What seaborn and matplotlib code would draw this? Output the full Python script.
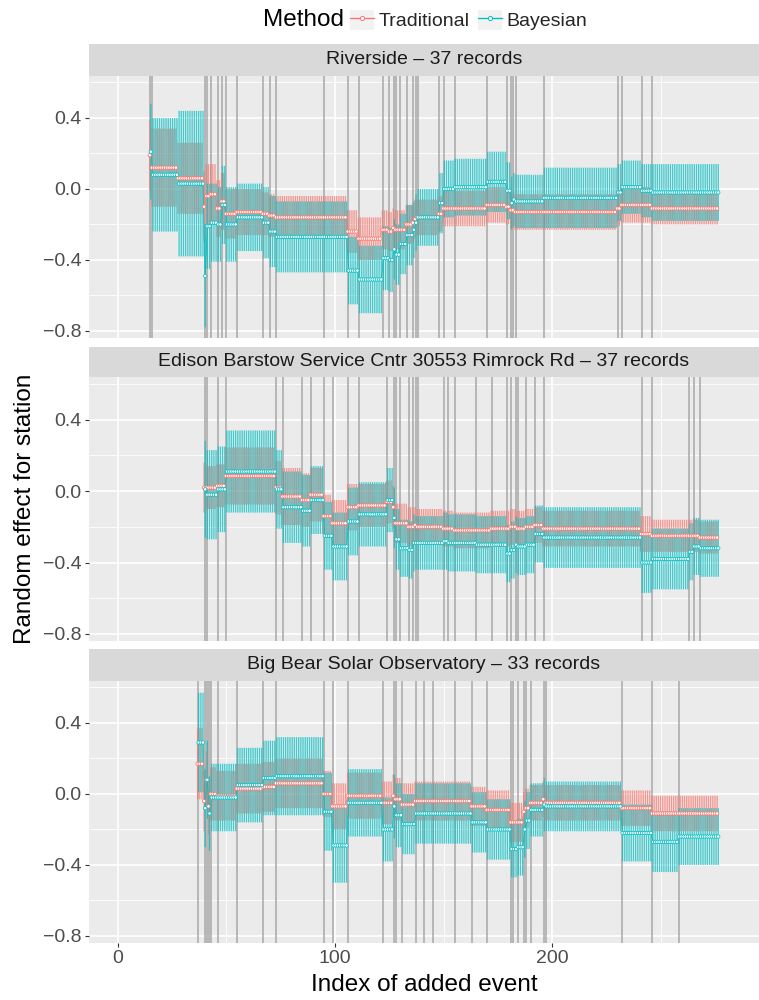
import numpy as np
import pandas as pd
import matplotlib
matplotlib.use("Agg")
import matplotlib.pyplot as plt
from matplotlib.patches import Rectangle
from matplotlib.lines import Line2D
from matplotlib.legend_handler import HandlerTuple
import seaborn as sns

# ---------------- data ----------------
methods = ["Traditional", "Bayesian"]
method_colors = ["#F8766D", "#00BFC4"]
station_titles = ["Riverside \u2013 37 records",
                  "Edison Barstow Service Cntr 30553 Rimrock Rd \u2013 37 records",
                  "Big Bear Solar Observatory \u2013 33 records"]
last_event = 276
x_ticks = [0, 100, 200]
y_ticks = [-0.8, -0.4, 0.0, 0.4]

# Riverside
riv_records = [15, 16, 40, 41, 43, 46, 48, 50, 55, 67, 70, 73, 95, 106, 111, 122, 125, 127,
               128, 130, 133, 136, 137, 138, 148, 150, 155, 170, 179, 181, 182, 183, 196,
               230, 232, 241, 246]
riv_knots = [15, 16, 28, 40, 41, 43, 46, 48, 50, 55, 67, 70, 73, 95, 106, 111, 122, 125, 127,
             128, 130, 133, 136, 137, 138, 148, 150, 155, 170, 179, 181, 182, 183, 196,
             230, 232, 241, 246]
riv_trad_mean = [0.19, 0.12, 0.06, -0.10, -0.04, -0.03, -0.11, -0.07, -0.14, -0.13, -0.14, -0.15,
                 -0.16, -0.16, -0.24, -0.28, -0.23, -0.24, -0.22, -0.23, -0.23, -0.20, -0.19,
                 -0.17, -0.16, -0.14, -0.11, -0.11, -0.09, -0.10, -0.12, -0.12, -0.13, -0.13,
                 -0.11, -0.09, -0.09, -0.11]
riv_trad_half = [0.20, 0.22, 0.20, 0.20, 0.18, 0.17, 0.16, 0.16, 0.14, 0.13, 0.12, 0.12,
                 0.12, 0.12, 0.12, 0.12, 0.11, 0.11, 0.11, 0.11, 0.11, 0.11, 0.11,
                 0.11, 0.10, 0.10, 0.10, 0.10, 0.10, 0.10, 0.10, 0.10, 0.10, 0.10,
                 0.10, 0.10, 0.10, 0.09]
riv_bayes_mean = [0.21, 0.08, 0.03, -0.49, -0.21, -0.19, -0.20, -0.09, -0.20, -0.16, -0.19, -0.24,
                  -0.27, -0.27, -0.46, -0.51, -0.39, -0.40, -0.34, -0.37, -0.31, -0.26, -0.23,
                  -0.19, -0.16, -0.08, 0.00, 0.01, 0.04, -0.01, -0.08, -0.06, -0.07, -0.05,
                  -0.02, 0.01, -0.01, -0.02]
riv_bayes_half = [0.27, 0.32, 0.41, 0.29, 0.24, 0.22, 0.21, 0.22, 0.21, 0.19, 0.20, 0.20,
                  0.20, 0.20, 0.19, 0.19, 0.18, 0.18, 0.17, 0.17, 0.17, 0.17, 0.16,
                  0.16, 0.16, 0.17, 0.16, 0.16, 0.17, 0.16, 0.15, 0.15, 0.15, 0.17,
                  0.16, 0.15, 0.15, 0.16]

# Edison Barstow
edi_records = [40, 41, 46, 50, 73, 76, 85, 89, 95, 99, 106, 111, 124, 127, 128, 130, 134, 136,
               137, 138, 150, 152, 155, 165, 172, 179, 181, 183, 184, 188, 192, 196, 241, 246,
               263, 265, 268]
edi_knots = edi_records
edi_trad_mean = [0.02, 0.02, 0.03, 0.085, 0.02, -0.03, -0.05, -0.02, -0.14, -0.18, -0.09, -0.08,
                 -0.06, -0.09, -0.18, -0.18, -0.20, -0.20, -0.19, -0.20, -0.21, -0.21, -0.22,
                 -0.22, -0.21, -0.21, -0.20, -0.20, -0.21, -0.20, -0.19, -0.21, -0.24, -0.25,
                 -0.25, -0.25, -0.26]
edi_trad_half = [0.14, 0.12, 0.12, 0.16, 0.15, 0.16, 0.15, 0.15, 0.12, 0.13, 0.13, 0.12,
                 0.12, 0.12, 0.11, 0.11, 0.11, 0.11, 0.10, 0.10, 0.10, 0.10, 0.10,
                 0.10, 0.10, 0.10, 0.10, 0.10, 0.10, 0.10, 0.10, 0.10, 0.10, 0.09,
                 0.09, 0.09, 0.09]
edi_bayes_mean = [0.01, -0.02, 0.01, 0.11, 0.01, -0.09, -0.11, -0.05, -0.25, -0.31, -0.17, -0.13,
                  -0.05, -0.15, -0.27, -0.32, -0.33, -0.29, -0.29, -0.29, -0.28, -0.29, -0.29,
                  -0.30, -0.30, -0.35, -0.33, -0.30, -0.31, -0.30, -0.24, -0.26, -0.40, -0.38,
                  -0.34, -0.31, -0.32]
edi_bayes_half = [0.27, 0.25, 0.24, 0.23, 0.22, 0.20, 0.20, 0.19, 0.19, 0.19, 0.19, 0.18,
                  0.18, 0.17, 0.17, 0.16, 0.16, 0.16, 0.15, 0.15, 0.16, 0.16, 0.16,
                  0.16, 0.16, 0.16, 0.16, 0.16, 0.16, 0.16, 0.16, 0.17, 0.17, 0.17,
                  0.16, 0.16, 0.16]

# Big Bear Solar Observatory
bbs_records = [37, 40, 41, 42, 43, 46, 55, 67, 73, 95, 99, 106, 122, 127, 128, 131, 137, 141,
               145, 155, 163, 170, 181, 182, 184, 187, 188, 190, 196, 197, 232, 246, 258]
bbs_knots = bbs_records
bbs_trad_mean = [0.17, -0.04, 0.08, -0.07, 0.00, -0.01, 0.03, 0.04, 0.06, 0.00, -0.07, -0.01,
                 -0.05, -0.01, -0.03, -0.06, -0.04, -0.04, -0.04, -0.04, -0.07, -0.09, -0.16,
                 -0.16, -0.16, -0.10, -0.08, -0.05, -0.03, -0.05, -0.08, -0.11, -0.11]
bbs_trad_half = [0.20, 0.17, 0.16, 0.16, 0.15, 0.14, 0.14, 0.14, 0.14, 0.13, 0.13, 0.13,
                 0.12, 0.12, 0.12, 0.12, 0.11, 0.11, 0.11, 0.11, 0.11, 0.11, 0.11,
                 0.11, 0.11, 0.11, 0.11, 0.10, 0.10, 0.10, 0.10, 0.10, 0.10]
bbs_bayes_mean = [0.29, -0.08, 0.08, -0.11, -0.02, -0.02, 0.05, 0.09, 0.10, -0.10, -0.29, -0.05,
                  -0.20, -0.07, -0.12, -0.17, -0.11, -0.11, -0.11, -0.11, -0.16, -0.20, -0.31,
                  -0.31, -0.30, -0.20, -0.15, -0.09, -0.06, -0.07, -0.22, -0.27, -0.24]
bbs_bayes_half = [0.28, 0.22, 0.22, 0.21, 0.19, 0.19, 0.21, 0.21, 0.22, 0.22, 0.21, 0.19,
                  0.18, 0.18, 0.18, 0.17, 0.17, 0.17, 0.17, 0.17, 0.17, 0.17, 0.16,
                  0.16, 0.16, 0.16, 0.16, 0.15, 0.15, 0.14, 0.16, 0.17, 0.16]

stations = [
    (riv_records, riv_knots, riv_trad_mean, riv_trad_half, riv_bayes_mean, riv_bayes_half),
    (edi_records, edi_knots, edi_trad_mean, edi_trad_half, edi_bayes_mean, edi_bayes_half),
    (bbs_records, bbs_knots, bbs_trad_mean, bbs_trad_half, bbs_bayes_mean, bbs_bayes_half),
]


def build_frame(knots, tm, th, bm, bh):
    """Values only change when a new event is added: hold each read value until the next knot."""
    x = np.arange(knots[0], last_event + 1)
    idx = np.searchsorted(knots, x, side="right") - 1
    frames = []
    for name, m, h in (("Traditional", tm, th), ("Bayesian", bm, bh)):
        m = np.asarray(m)[idx]
        h = np.asarray(h)[idx]
        frames.append(pd.DataFrame({"event": x, "mean": m, "lo": m - h, "hi": m + h,
                                    "Method": name}))
    return pd.concat(frames, ignore_index=True)


# ---------------- style ----------------
sns.set_theme(style="white")
plt.rcParams["font.family"] = ["Liberation Sans", "DejaVu Sans"]
plt.rcParams["axes.unicode_minus"] = True

W, H = 759, 1000
fig = plt.figure(figsize=(W / 100, H / 100), dpi=100)
fig.patch.set_facecolor("white")

left_px, right_px = 89, 759
panels_px = [(75.7, 337.7), (377.3, 640.7), (680.7, 942.7)]
strips_px = [(44.0, 75.7), (346.7, 377.3), (649.0, 680.7)]
xlim = (-13.2, 295.0)
ylim = (-0.838, 0.638)
dodge = {"Traditional": -0.25, "Bayesian": 0.25}
palette = dict(zip(methods, method_colors))


def fig_rect(top, bottom):
    return [left_px / W, 1 - bottom / H, (right_px - left_px) / W, (bottom - top) / H]


for i, (records, knots, tm, th, bm, bh) in enumerate(stations):
    df = build_frame(knots, tm, th, bm, bh)
    df["xd"] = df["event"] + df["Method"].map(dodge)

    ax = fig.add_axes(fig_rect(*panels_px[i]))
    ax.set_facecolor("#EBEBEB")
    for s in ax.spines.values():
        s.set_visible(False)
    ax.set_xlim(*xlim)
    ax.set_ylim(*ylim)
    ax.set_xticks(x_ticks)
    ax.set_xticks([50, 150, 250], minor=True)
    ax.set_yticks(y_ticks)
    ax.set_yticks([-0.6, -0.2, 0.2, 0.6], minor=True)
    ax.set_yticklabels([f"{v:.1f}".replace("-", "\u2212") for v in y_ticks])
    ax.grid(which="major", color="white", linewidth=1.2, zorder=0)
    ax.grid(which="minor", color="white", linewidth=0.6, zorder=0)
    ax.set_axisbelow(True)
    ax.tick_params(axis="y", which="major", length=3.2, width=0.8, color="#333333",
                   labelcolor="#4D4D4D", labelsize=14, pad=2.2, left=True)
    ax.tick_params(which="minor", length=0)
    if i == 2:
        ax.tick_params(axis="x", which="major", length=3.2, width=0.8, color="#333333",
                       labelcolor="#4D4D4D", labelsize=14, pad=2.2, bottom=True)
    else:
        ax.tick_params(axis="x", which="major", length=0, labelbottom=False)

    # record events
    for r in records:
        ax.axvline(r, color="#A8A8A8", linewidth=1.1, zorder=1)

    # error bars
    for m in methods:
        sub = df[df["Method"] == m]
        lc = ax.vlines(sub["xd"], sub["lo"], sub["hi"], color=palette[m], linewidth=0.95,
                       alpha=0.72, zorder=2)
        lc.set_snap(False)
        lc.set_antialiased(True)

    # means
    sns.lineplot(data=df, x="xd", y="mean", hue="Method", hue_order=methods,
                 palette=palette, estimator=None, units="Method", sort=True,
                 legend=False, linewidth=0.5, ax=ax, zorder=3)
    sns.scatterplot(data=df, x="xd", y="mean", hue="Method", hue_order=methods,
                    palette=palette, legend=False, s=6, linewidth=0.55, marker="o",
                    ax=ax, zorder=4)
    coll = ax.collections[-1]
    fcs = coll.get_facecolors()
    coll.set_edgecolors(fcs)
    coll.set_facecolors("white")
    ax.set_xlabel("")
    ax.set_ylabel("")

    # strip
    st, sb = strips_px[i]
    sax = fig.add_axes(fig_rect(st, sb))
    sax.set_facecolor("#D9D9D9")
    for s in sax.spines.values():
        s.set_visible(False)
    sax.set_xticks([])
    sax.set_yticks([])
    sax.text(0.5, 0.5, station_titles[i], ha="center", va="center", fontsize=14,
             color="#1A1A1A", transform=sax.transAxes)

# axis titles
fig.text((left_px + right_px) / 2 / W, 1 - 985 / H, "Index of added event", ha="center",
         va="center", fontsize=17.5, color="black")
fig.text(25 / W, 1 - 509 / H, "Random effect for station", ha="center", va="center",
         rotation=90, fontsize=17.5, color="black")

# legend
fig.text(263 / W, 1 - 20 / H, "Method", ha="left", va="center", fontsize=17.5, color="black")
handles = []
for m in methods:
    bg = Rectangle((0, 0), 1, 1, facecolor="#F2F2F2", edgecolor="none")
    ln = Line2D([], [], color=palette[m], linewidth=1.0, marker="o", markersize=3,
                markerfacecolor="white", markeredgecolor=palette[m], markeredgewidth=0.7)
    handles.append((bg, ln))
fig.legend(handles, methods, handler_map={tuple: HandlerTuple(ndivide=1)},
           loc="center left", bbox_to_anchor=(350 / W, 1 - 20 / H), ncol=2, frameon=False,
           fontsize=14, handlelength=1.25, handleheight=1.25, handletextpad=0.2,
           columnspacing=0.45, borderpad=0, borderaxespad=0)

fig.savefig("out.png", dpi=100)
